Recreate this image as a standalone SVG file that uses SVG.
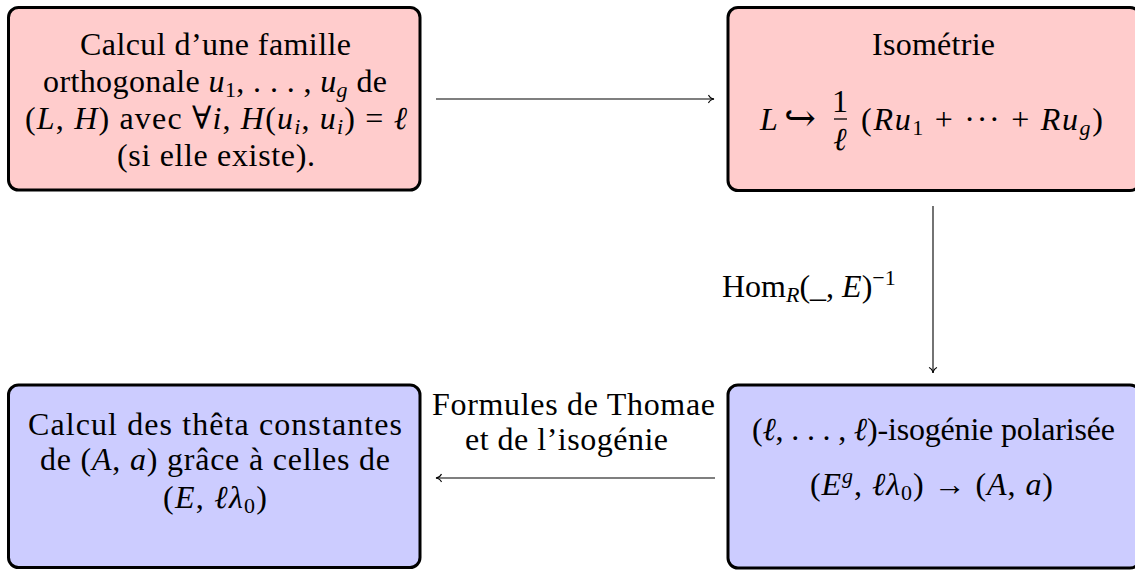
<svg xmlns="http://www.w3.org/2000/svg" width="1135" height="571" viewBox="0 0 1135 571">
<style>
text{font-family:'Liberation Serif','Times New Roman',Times,'DejaVu Serif',serif;font-size:32px;fill:#000}
.m{font-style:italic}
.s{font-size:22px}
.box{stroke:#000;stroke-width:3}
.red{fill:#FFCCCC}
.blue{fill:#CCCCFF}
.c{stroke:#000;stroke-width:1.1;fill:none}
.sym{font-family:'DejaVu Serif',serif}
</style>
<defs>
<marker id="to" markerUnits="userSpaceOnUse" markerWidth="12" markerHeight="12" viewBox="-8 -6 10 12" refX="0" refY="0" orient="auto">
<path d="M-5.5,-4 C-4.5,-1.6 -1.8,-0.3 0,0 C-1.8,0.3 -4.5,1.6 -5.5,4" fill="none" stroke="#000" stroke-width="1.1"/>
</marker>
</defs>
<g id="n1" font-family="Liberation Serif">
<rect class="box red" x="8.5" y="7.5" width="411.5" height="182.5" rx="10"/>
<text x="80" y="55" textLength="271" lengthAdjust="spacing">Calcul d’une famille</text>
<text x="43" y="92" textLength="344" lengthAdjust="spacing">orthogonale <tspan class="m">u</tspan><tspan class="s" dy="5">1</tspan><tspan dy="-5">, . . . , </tspan><tspan class="m">u</tspan><tspan class="s m" dy="5">g</tspan><tspan dy="-5"> de</tspan></text>
<text x="25" y="129" textLength="382" lengthAdjust="spacing">(<tspan class="m">L</tspan>, <tspan class="m">H</tspan>) avec ∀<tspan class="m">i</tspan>, <tspan class="m">H</tspan>(<tspan class="m">u</tspan><tspan class="s m" dy="5">i</tspan><tspan dy="-5">, </tspan><tspan class="m">u</tspan><tspan class="s m" dy="5">i</tspan><tspan dy="-5">) = </tspan><tspan class="m">ℓ</tspan></text>
<text x="117" y="166" textLength="198" lengthAdjust="spacing">(si elle existe).</text>
</g>
<g id="n2" font-family="Liberation Serif">
<rect class="box red" x="728" y="7.5" width="412" height="183" rx="10"/>
<text x="872" y="55" textLength="123" lengthAdjust="spacing">Isométrie</text>
<text x="760" y="130" class="m">L</text>
<text x="784" y="131" class="sym" style="font-size:38px">↪</text>
<text x="840" y="112" text-anchor="middle">1</text>
<line x1="834" y1="119" x2="847" y2="119" stroke="#000" stroke-width="1.3"/>
<text x="840" y="150" text-anchor="middle" class="m">ℓ</text>
<text x="861" y="130" textLength="242" lengthAdjust="spacing">(<tspan class="m">Ru</tspan><tspan class="s" dy="5">1</tspan><tspan dy="-5"> + ··· + </tspan><tspan class="m">Ru</tspan><tspan class="s m" dy="5">g</tspan><tspan dy="-5">)</tspan></text>
</g>
<g id="n3" font-family="Liberation Serif">
<rect class="box blue" x="728" y="385" width="412" height="183" rx="10"/>
<text x="752" y="440" textLength="363" lengthAdjust="spacing">(<tspan class="m">ℓ</tspan>, . . . , <tspan class="m">ℓ</tspan>)-isogénie polarisée</text>
<text x="810" y="495" textLength="243" lengthAdjust="spacing">(<tspan class="m">E</tspan><tspan class="s m" dy="-12">g</tspan><tspan dy="12">, </tspan><tspan class="m">ℓλ</tspan><tspan class="s" dy="5">0</tspan><tspan dy="-5">) → (</tspan><tspan class="m">A</tspan>, <tspan class="m">a</tspan>)</text>
</g>
<g id="n4" font-family="Liberation Serif">
<rect class="box blue" x="8.5" y="385" width="411.5" height="182.5" rx="10"/>
<text x="28" y="435" textLength="374" lengthAdjust="spacing">Calcul des thêta constantes</text>
<text x="40" y="470" textLength="350" lengthAdjust="spacing">de (<tspan class="m">A</tspan>, <tspan class="m">a</tspan>) grâce à celles de</text>
<text x="163" y="508" textLength="104" lengthAdjust="spacing">(<tspan class="m">E</tspan>, <tspan class="m">ℓλ</tspan><tspan class="s" dy="5">0</tspan><tspan dy="-5">)</tspan></text>
</g>
<g id="connectors" font-family="Liberation Serif">
<path class="c" d="M436,99 L714,99" marker-end="url(#to)"/>
<path class="c" d="M933,206 L933,373" marker-end="url(#to)"/>
<text x="722" y="297">Hom<tspan class="s m" dy="5">R</tspan><tspan dy="-5">(_, </tspan><tspan class="m">E</tspan>)<tspan class="s" dy="-12">−1</tspan></text>
<path class="c" d="M715,478 L436,478" marker-end="url(#to)"/>
<text x="432" y="415" textLength="283" lengthAdjust="spacing">Formules de Thomae</text>
<text x="465" y="450" textLength="203" lengthAdjust="spacing">et de l’isogénie</text>
</g>
</svg>
